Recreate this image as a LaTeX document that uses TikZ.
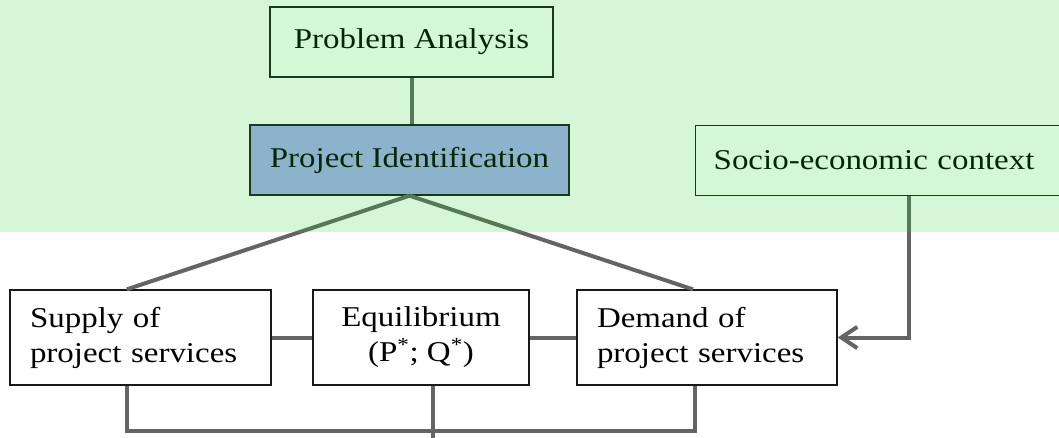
\documentclass[tikz,border=0pt]{standalone}
\usepackage{fontspec}
\setmainfont[FakeStretch=1.15]{Liberation Serif}
\usetikzlibrary{arrows.meta,calc}
\definecolor{linegray}{RGB}{100,100,100}
\definecolor{idblue}{RGB}{167,173,241}
\definecolor{tint}{RGB}{22,211,33}
\begin{document}
\begin{tikzpicture}[x=0.75pt,y=-0.75pt,
  every node/.style={font=\fontsize{21.5}{26.25}\selectfont},
  box/.style={draw=black!90, line width=1pt, fill=white, inner sep=0pt},
  topbox/.style={box, minimum height=52.5pt},
  lowbox/.style={box, minimum height=71.25pt},
  link/.style={draw=linegray, line width=3pt}]
\useasboundingbox (0,0) rectangle (1059,438);

% upper row
\node[topbox, minimum width=212.25pt] (pa) at (411.5,42) {Problem Analysis};
\node[topbox, minimum width=239.25pt, fill=idblue] (pi) at (409.5,160) {Project Identification};
\node[topbox, minimum width=315pt, inner xsep=13.5pt, text width=288pt, align=left,
      anchor=west] (soc) at (695,160.5) {Socio-economic context};

% lower row
\node[lowbox, minimum width=195.75pt, inner xsep=15pt, text width=165.75pt, align=left]
  (sup) at (140.5,337.5) {Supply of\\project services};
\node[lowbox, minimum width=162pt, align=center]
  (equ) at (421,337.5) {Equilibrium\\(P\textsuperscript{*}; Q\textsuperscript{*})};
\node[lowbox, minimum width=195pt, inner xsep=15pt, text width=165pt, align=left]
  (dem) at (707,337.5) {Demand of\\project services};

% attachment points
\coordinate (supTop) at ($(sup.north west)!0.448!(sup.north east)$);
\coordinate (demTop) at ($(dem.north west)!0.446!(dem.north east)$);
\coordinate (supBot) at ($(sup.south west)!0.448!(sup.south east)$);
\coordinate (equBot) at ($(equ.south west)!0.556!(equ.south east)$);
\coordinate (demBot) at ($(dem.south west)!0.454!(dem.south east)$);
\coordinate (socOut) at ($(soc.south west)!0.507!(soc.south east)$);
\coordinate (busY) at (0,431);
\coordinate (busEnd) at (0,442);

% connectors
\draw[link] (pa.south) -- (pa.south |- pi.north);
\draw[link] (pi.south) -- (supTop);
\draw[link] (pi.south) -- (demTop);
\draw[link] (sup.east) -- (equ.west);
\draw[link] (equ.east) -- (dem.west);
\draw[link] (supBot) -- (supBot |- busY) -- (demBot |- busY) -- (demBot);
\draw[link] (equBot) -- (equBot |- busEnd);
\draw[link, -{Straight Barb[length=12pt, width=16pt]}] (socOut) |- (dem.east);

% translucent green band over the upper part
\fill[tint, opacity=0.18] (0,0) rectangle (1059,232);
\end{tikzpicture}
\end{document}
